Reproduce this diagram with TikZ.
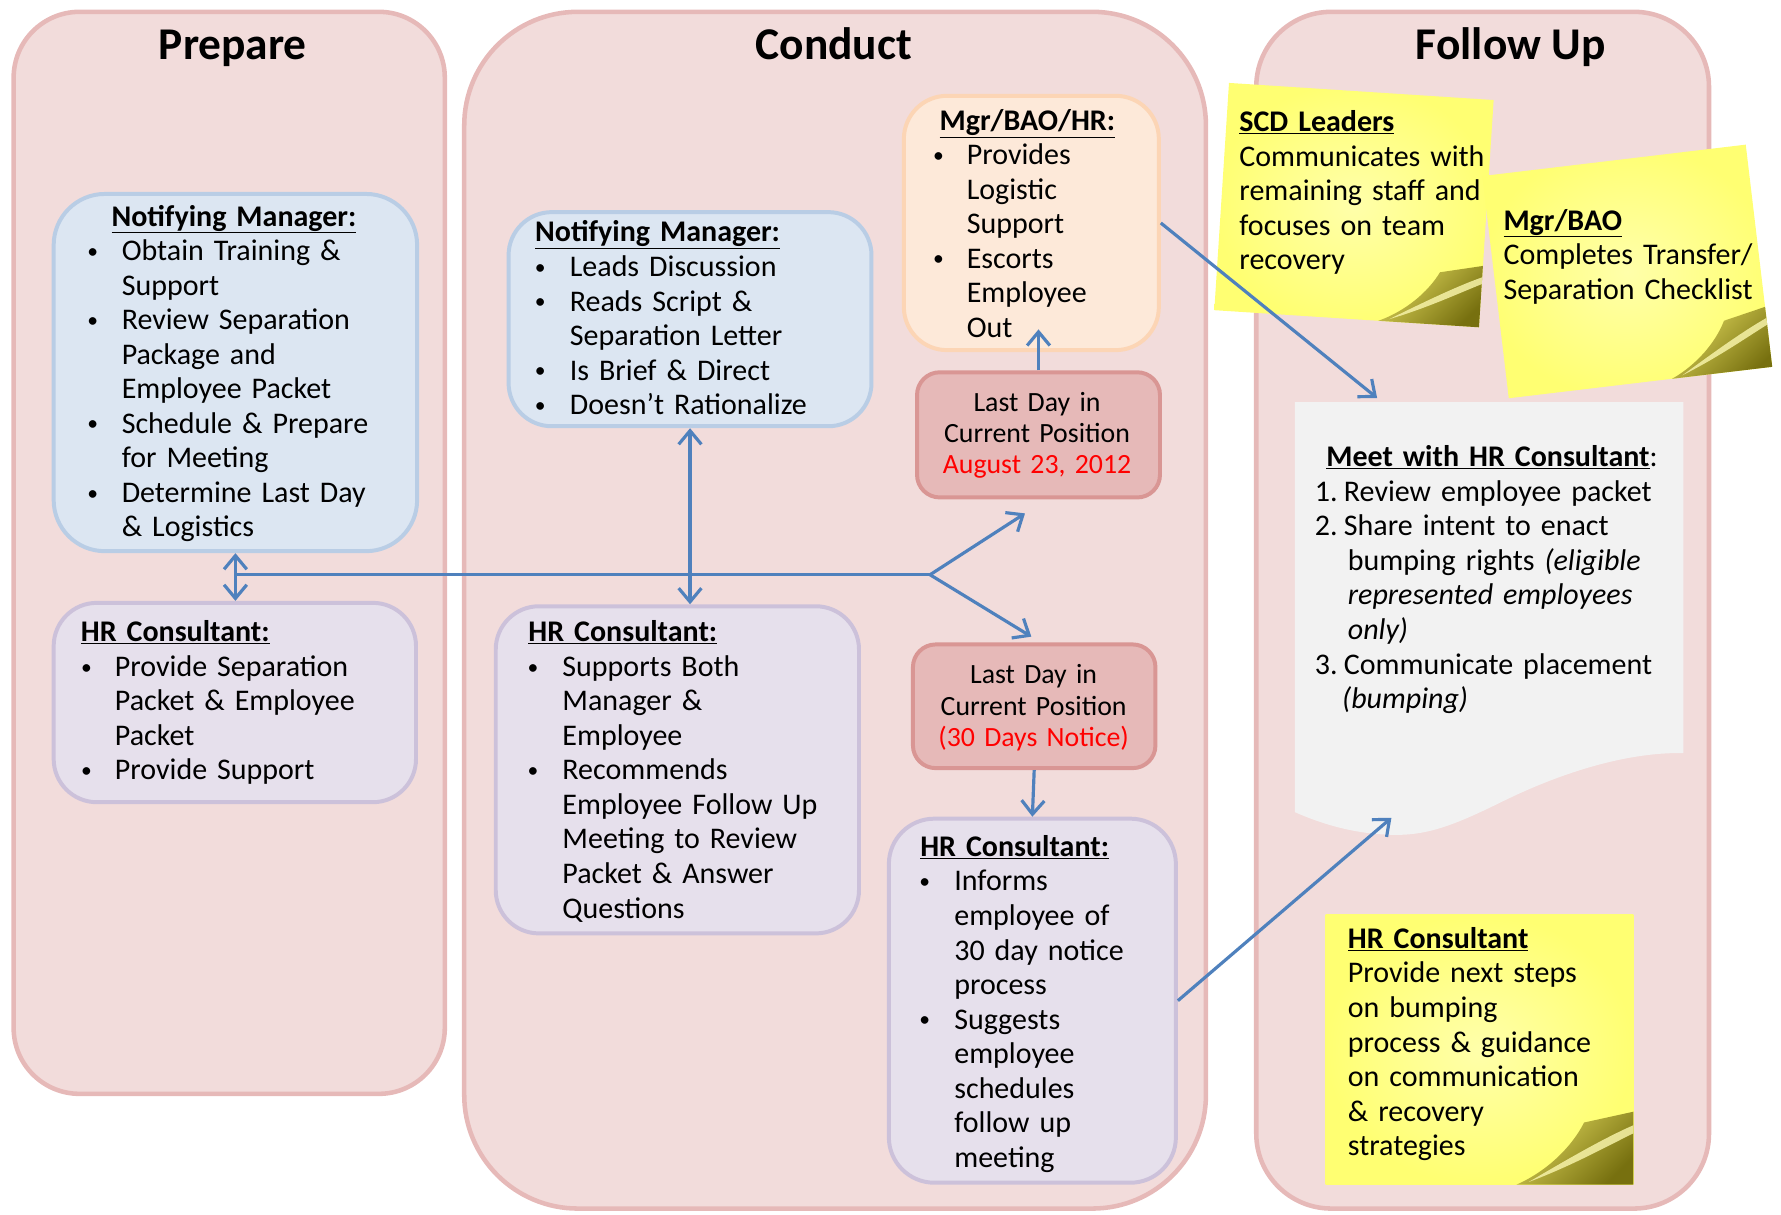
\documentclass[tikz,border=0pt]{standalone}
\usepackage{fontspec}
\setmainfont{Carlito}
\usetikzlibrary{arrows.meta}
\definecolor{panelfill}{HTML}{F2DCDB}
\definecolor{paneldraw}{HTML}{E6B9B8}
\definecolor{bluefill}{HTML}{DCE6F2}
\definecolor{bluedraw}{HTML}{B9CDE5}
\definecolor{lavfill}{HTML}{E6E0EC}
\definecolor{lavdraw}{HTML}{CCC1DA}
\definecolor{peachfill}{HTML}{FDE9D9}
\definecolor{peachdraw}{HTML}{FCD5B5}
\definecolor{dayfill}{HTML}{E6B9B8}
\definecolor{daydraw}{HTML}{D99694}
\definecolor{arrowblue}{HTML}{4F81BD}
\definecolor{docfill}{HTML}{F2F2F2}
\definecolor{stickyin}{HTML}{FFFFAA}
\definecolor{stickyout}{HTML}{FFFF72}
\definecolor{curldark}{HTML}{77700F}
\definecolor{curlmid}{HTML}{DCD45A}
\definecolor{curllight}{HTML}{F6F2A8}
\newdimen\bulx
\newdimen\txtx
\newcommand\bitem[1]{\makebox[\txtx][l]{\hspace*{\bulx}\makebox[0pt]{\raisebox{2pt}{\fontsize{19}{20}\selectfont\textbullet}}}#1}
\newcommand\cont[1]{\hspace*{\txtx}#1}
\newcommand\hd[1]{\underline{\textbf{#1}}}
\newcommand\stickynote[2]{%
  \shade[inner color=stickyin, outer color=stickyout] (0,0) rectangle (#1,#2);
  \shade[shading=axis, top color=curlmid, bottom color=curldark, shading angle=45]
    ({0.62*#1},#2) .. controls ({0.72*#1},{0.95*#2}) and ({0.80*#1},{0.86*#2}) .. ({0.84*#1},{0.77*#2})
    -- (#1,{0.73*#2}) -- (#1,#2) -- cycle;
  \fill[curllight, opacity=0.85]
    ({0.66*#1},{0.99*#2}) .. controls ({0.78*#1},{0.91*#2}) and ({0.90*#1},{0.83*#2}) .. (#1,{0.78*#2})
    -- (#1,{0.81*#2}) .. controls ({0.91*#1},{0.86*#2}) and ({0.80*#1},{0.93*#2}) .. ({0.66*#1},{0.99*#2}) -- cycle;
}
\begin{document}
\begin{tikzpicture}[x=1pt,y=-1pt,
  panel/.style={rectangle, draw=paneldraw, fill=panelfill, line width=4pt, inner sep=0pt},
  box/.style={rectangle, line width=3.5pt, inner sep=0pt, rounded corners=38pt},
  bluebox/.style={box, draw=bluedraw, fill=bluefill},
  lavbox/.style={box, draw=lavdraw, fill=lavfill},
  peachbox/.style={box, draw=peachdraw, fill=peachfill},
  daybox/.style={box, draw=daydraw, fill=dayfill, rounded corners=20pt},
  title/.style={anchor=base, inner sep=0pt, font=\fontsize{40}{48}\selectfont\bfseries},
  txt/.style={anchor=base west, inner sep=0pt, text width=420pt, align=left, font=\fontsize{26.4}{30.4}\selectfont},
  daytxt/.style={anchor=base, inner sep=0pt, text width=260pt, align=center, font=\fontsize{24.5}{27.5}\selectfont},
  conn/.style={draw=arrowblue, line width=2.8pt},
  arr/.style={conn, -{Straight Barb[length=12pt,width=20pt]}},
  darr/.style={conn, {Straight Barb[length=12pt,width=20pt]}-{Straight Barb[length=12pt,width=20pt]}}
]
\useasboundingbox (0,0) rectangle (1568,1069);

% panels
\node[panel, rounded corners=58pt, minimum width=379.6pt, minimum height=952.6pt] (prep) at (201.8,486.7) {};
\node[panel, rounded corners=100pt, minimum width=653pt, minimum height=1053.6pt] (cond) at (735.2,537.2) {};
\node[panel, rounded corners=66pt, minimum width=398.6pt, minimum height=1053.6pt] (foll) at (1305.3,537.2) {};

\node[title] (tprep) at (205,52) {Prepare};
\node[title] (tcond) at (734,52) {Conduct};
\node[title] (tfoll) at (1330,52) {Follow Up};

% boxes
\node[bluebox, rounded corners=45pt, minimum width=320pt, minimum height=314.5pt] (nmp) at (207.25,328) {};
\node[lavbox, minimum width=319pt, minimum height=175.5pt] (hrp) at (206.75,618.5) {};
\node[bluebox, minimum width=319.5pt, minimum height=188.5pt] (nmc) at (607.5,281) {};
\node[lavbox, minimum width=319.8pt, minimum height=288pt] (hrc) at (596.35,677.75) {};
\node[peachbox, minimum width=224.5pt, minimum height=223.9pt] (mbh) at (908,196.3) {};
\node[daybox, minimum width=213.9pt, minimum height=110.2pt] (aug) at (914.3,382.85) {};
\node[daybox, minimum width=213.5pt, minimum height=108.9pt] (d30) at (910.5,621.8) {};
\node[lavbox, rounded corners=40pt, minimum width=252.7pt, minimum height=320.5pt] (hr2) at (908.9,881) {};

% document shape
\fill[docfill] (1140,354) -- (1482,354) -- (1482,663)
  .. controls (1430,662) and (1370,682) .. (1320,707)
  .. controls (1285,724) and (1260,735) .. (1230,735)
  .. controls (1195,735) and (1165,726) .. (1140,715) -- cycle;

% sticky notes
\begin{scope}[shift={(1082,73)}, rotate=-3.7]
  \stickynote{233.5}{200.5}
\end{scope}
\begin{scope}[shift={(1305,155)}, rotate=6.8]
  \stickynote{233.6}{197}
\end{scope}
\begin{scope}[shift={(1167,805)}]
  \stickynote{271}{238}
\end{scope}

% texts
\node[txt] (nmpt) at (98,199) {\bulx=-16.5pt\txtx=9pt
\hd{Notifying Manager:}\\
\bitem{Obtain Training \&}\\
\cont{Support}\\
\bitem{Review Separation}\\
\cont{Package and}\\
\cont{Employee Packet}\\
\bitem{Schedule \& Prepare}\\
\cont{for Meeting}\\
\bitem{Determine Last Day}\\
\cont{\& Logistics}};

\node[txt] (hrpt) at (71,565) {\bulx=5pt\txtx=30pt
\hd{HR Consultant:}\\
\bitem{Provide Separation}\\
\cont{Packet \& Employee}\\
\cont{Packet}\\
\bitem{Provide Support}};

\node[txt] (nmct) at (471,213) {\bulx=4.5pt\txtx=30.5pt
\hd{Notifying Manager:}\\
\bitem{Leads Discussion}\\
\bitem{Reads Script \&}\\
\cont{Separation Letter}\\
\bitem{Is Brief \& Direct}\\
\bitem{Doesn’t Rationalize}};

\node[txt] (hrct) at (465,565) {\bulx=4pt\txtx=30pt
\hd{HR Consultant:}\\
\bitem{Supports Both}\\
\cont{Manager \&}\\
\cont{Employee}\\
\bitem{Recommends}\\
\cont{Employee Follow Up}\\
\cont{Meeting to Review}\\
\cont{Packet \& Answer}\\
\cont{Questions}};

\node[txt] (mbht) at (827,114.5) {\bulx=-1pt\txtx=24pt
\hd{Mgr/BAO/HR:}\\
\bitem{Provides}\\
\cont{Logistic}\\
\cont{Support}\\
\bitem{Escorts}\\
\cont{Employee}\\
\cont{Out}};

\node[daytxt] (augt) at (913,362) {Last Day in\\Current Position\\\textcolor{red}{August 23, 2012}};
\node[daytxt] (d30t) at (910,602) {Last Day in\\Current Position\\\textcolor{red}{(30 Days Notice)}};

\node[txt] (hr2t) at (810,754) {\bulx=4pt\txtx=30pt
\hd{HR Consultant:}\\
\bitem{Informs}\\
\cont{employee of}\\
\cont{30 day notice}\\
\cont{process}\\
\bitem{Suggests}\\
\cont{employee}\\
\cont{schedules}\\
\cont{follow up}\\
\cont{meeting}};

\node[txt] (doct) at (1157.5,411) {%
\hspace*{10pt}\hd{Meet with HR Consultant}:\\
\makebox[25.5pt][l]{1.}Review employee packet\\
\makebox[25.5pt][l]{2.}Share intent to enact\\
\hspace*{29pt}bumping rights \textit{(eligible}\\
\hspace*{29pt}\textit{represented employees}\\
\hspace*{29pt}\textit{only)}\\
\makebox[25.5pt][l]{3.}Communicate placement\\
\hspace*{24pt}\textit{(bumping)}};

\node[txt] (scdt) at (1091,116) {\hd{SCD Leaders}\\Communicates with\\remaining staff and\\focuses on team\\recovery};
\node[txt] (mbst) at (1323.5,202.5) {\hd{Mgr/BAO}\\Completes Transfer/\\Separation Checklist};
\node[txt] (hrst) at (1186.5,835) {\hd{HR Consultant}\\Provide next steps\\on bumping\\process \& guidance\\on communication\\\& recovery\\strategies};

% connectors
\coordinate (jl) at (207.25,506);
\coordinate (J) at (818.8,506);
\coordinate (augin) at (902.4,452);
\coordinate (d30in) at (908,560.5);
\coordinate (mbhin) at (914.3,290);
\coordinate (docin1) at (1212.4,350.4);
\coordinate (docin2) at (1225,720);

\draw[darr] (nmp.south) -- (nmp.south |- hrp.north);
\draw[conn] (jl) -- (J);
\draw[darr] (nmc.south) -- (nmc.south |- hrc.north);
\draw[arr] (J) -- (augin);
\draw[arr] (J) -- (d30in);
\draw[arr] (aug.north) -- (mbhin);
\draw[arr] (d30.south) -- (hr2.north);
\draw[arr] (mbh.east) -- (docin1);
\draw[arr] (hr2.east) -- (docin2);
\end{tikzpicture}
\end{document}
